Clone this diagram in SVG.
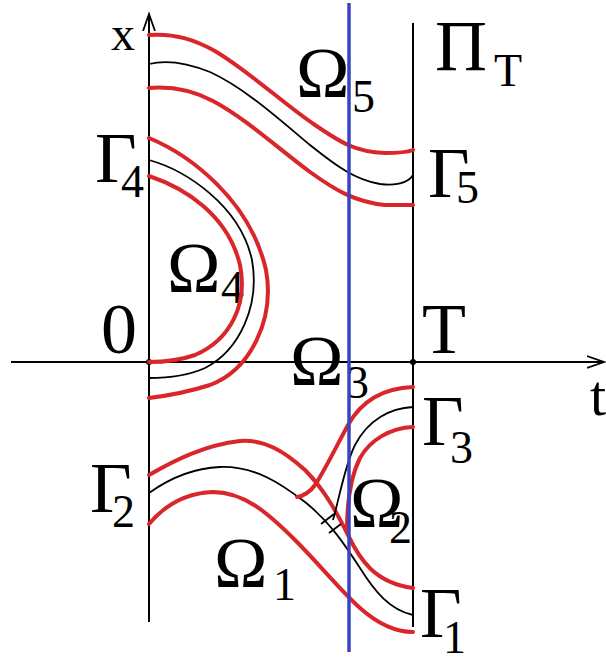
<svg xmlns="http://www.w3.org/2000/svg" width="606" height="659" viewBox="0 0 606 659">
<style>
text{font-family:"Liberation Serif","Times New Roman",serif;fill:#000}
.L{font-size:72px}
.S{font-size:46px}
.ax{stroke:#000;stroke-width:2;fill:none}
.r{stroke:#d9262b;stroke-width:4;fill:none;stroke-linecap:round}
.k{stroke:#000;stroke-width:1.8;fill:none}
.b{stroke:#3a44c2;stroke-width:3.5;fill:none}
</style>
<defs>
<marker id="arr" markerUnits="userSpaceOnUse" markerWidth="20" markerHeight="16" refX="17" refY="7" orient="auto">
<path d="M0,1 L17,7 L0,13" fill="none" stroke="#000" stroke-width="1.8"/>
</marker>
</defs>
<g id="labels">
<text class="L" x="111" y="50" style="font-size:48px">x</text>
<text class="L" x="435" y="70">Π</text><text class="S" x="494" y="86">T</text>
<text class="L" x="296" y="97">Ω</text><text class="S" x="352" y="112">5</text>
<text class="L" x="95" y="182">Γ</text><text class="S" x="121" y="197">4</text>
<text class="L" x="428" y="197">Γ</text><text class="S" x="456" y="203">5</text>
<text class="L" x="167" y="292">Ω</text><text class="S" x="221" y="303">4</text>
<text class="L" x="101" y="353">0</text>
<text class="L" x="422" y="353">T</text>
<text class="L" x="290" y="385">Ω</text><text class="S" x="346" y="398">3</text>
<text style="font-size:58px" x="590" y="415">t</text>
<text class="L" x="422" y="445">Γ</text><text class="S" x="450" y="463">3</text>
<text class="L" x="90" y="512">Γ</text><text class="S" x="112" y="527">2</text>
<text class="L" x="350" y="527">Ω</text><text class="S" x="389" y="543">2</text>
<text class="L" x="214" y="587">Ω</text><text class="S" x="273" y="600">1</text>
<text class="L" x="420" y="637">Γ</text><text class="S" x="443" y="653">1</text>
</g>
<g id="axes">
<line class="ax" x1="149" y1="622" x2="149" y2="14" marker-end="url(#arr)"/>
<line class="ax" x1="11" y1="362" x2="604" y2="362" marker-end="url(#arr)"/>
<line class="ax" x1="413" y1="23" x2="413" y2="627"/>
<circle cx="149" cy="362" r="3" fill="#000"/>
<circle cx="413" cy="362" r="3" fill="#000"/>
</g>
<g id="omega5">
<path class="r" d="M149,35 C175,33 195,40 215,51 C250,72 285,105 315,125 C340,142 355,152 385,153 C400,153 408,152 413,150"/>
<path class="k" d="M149,64 C165,60 185,62 210,72 C245,88 280,120 310,145 C335,165 355,180 380,184 C398,186 408,183 413,175"/>
<path class="r" d="M149,88 C172,86 192,90 213,101 C245,118 280,150 310,172 C335,190 355,202 385,205 L413,205"/>
</g>
<g id="omega4">
<path class="r" d="M149,138 C190,155 250,200 266,270 C275,320 250,370 210,385 C185,393 165,396 149,398"/>
<path class="k" d="M149,160 C185,170 240,205 252,260 C260,305 240,350 205,368 C185,377 165,378 149,378"/>
<path class="r" d="M149,176 C185,188 228,215 240,265 C248,305 230,340 195,355 C178,361 162,362 149,362"/>
</g>
<g id="omega1">
<path class="r" d="M149,475 C175,460 205,445 240,441 C265,439 285,452 305,470 C325,490 338,515 348,535 C360,560 375,583 413,588"/>
<path class="k" d="M149,493 C170,478 195,468 220,467 C255,466 280,483 305,502 C330,522 345,545 360,568 C375,592 390,610 413,615"/>
<path class="r" d="M149,524 C165,505 185,493 213,492 C245,492 270,515 295,540 C320,565 340,590 360,608 C378,624 395,632 413,632"/>
</g>
<g id="omega2">
<path class="r" d="M413,387 C385,388 362,400 348,425 C337,445 325,470 315,485 C310,492 303,496 297,497"/>
<path class="k" d="M413,407 C390,408 368,420 355,445 C345,465 340,495 333,520"/>
<path class="k" d="M321,524 L334,514 M329,533 L341,524"/>
<path class="r" d="M413,427 C390,428 370,440 360,458 C350,478 347,505 347,530"/>
</g>
<line id="blue" class="b" x1="349" y1="3" x2="349" y2="652"/>
</svg>
